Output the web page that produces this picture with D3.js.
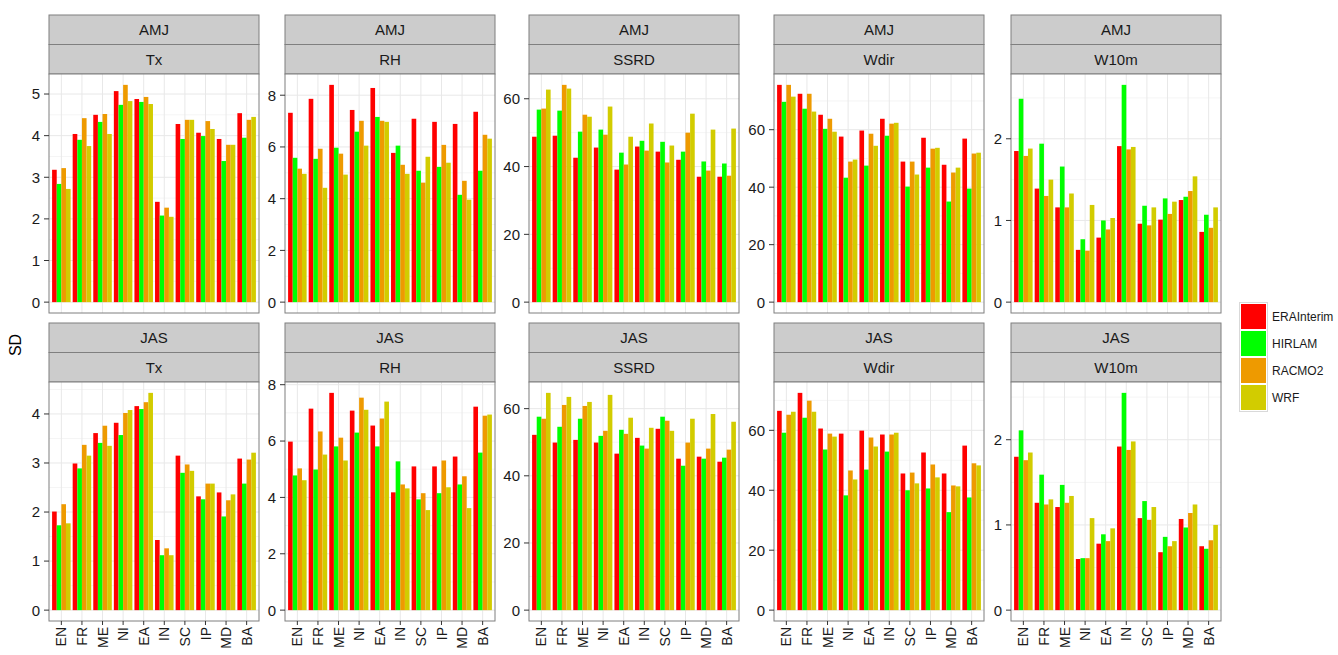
<!DOCTYPE html>
<meta charset="utf-8">
<style>
body { margin: 0; background: #fff; }
text { font-family: "Liberation Sans", Arial, sans-serif; }
</style>
<svg width="1338" height="655"></svg>
<script src="https://cdn.jsdelivr.net/npm/d3@7/dist/d3.min.js"></script>
<script>

var regions = ["EN", "FR", "ME", "NI", "EA", "IN", "SC", "IP", "MD", "BA"];
var models = ["ERAInterim", "HIRLAM", "RACMO2", "WRF"];
var seasons = ["AMJ", "JAS"];
var variables = ["Tx", "RH", "SSRD", "Wdir", "W10m"];

// SD per region, one row per model (ERAInterim, HIRLAM, RACMO2, WRF)
var amjTx = [
  [3.18, 4.04, 4.50, 5.07, 4.88, 2.41, 4.28, 4.07, 3.92, 4.54],
  [2.84, 3.90, 4.33, 4.74, 4.81, 2.08, 3.92, 3.99, 3.39, 3.95],
  [3.22, 4.42, 4.52, 5.22, 4.93, 2.27, 4.38, 4.35, 3.78, 4.38],
  [2.72, 3.75, 4.04, 4.83, 4.76, 2.05, 4.38, 4.16, 3.78, 4.45]];
var amjRH = [
  [7.32, 7.86, 8.40, 7.43, 8.28, 5.77, 7.09, 6.97, 6.89, 7.36],
  [5.58, 5.54, 5.97, 6.59, 7.16, 6.05, 5.08, 5.23, 4.15, 5.08],
  [5.16, 5.93, 5.74, 7.01, 7.01, 5.31, 4.62, 6.08, 4.69, 6.47],
  [4.96, 4.42, 4.93, 6.05, 6.97, 4.96, 5.62, 5.39, 3.96, 6.32]];
var amjSSRD = [
  [48.8, 49.1, 42.6, 45.6, 39.1, 45.9, 44.4, 42.0, 37.0, 37.0],
  [56.8, 56.5, 50.3, 50.9, 44.1, 47.6, 47.3, 44.4, 41.5, 40.9],
  [57.1, 64.1, 55.3, 49.4, 40.6, 44.7, 41.2, 50.0, 38.8, 37.3],
  [62.7, 63.0, 54.7, 57.7, 48.8, 52.7, 46.2, 55.6, 50.9, 51.2]];
var amjWdir = [
  [75.6, 72.5, 65.2, 57.6, 59.7, 63.8, 48.9, 57.2, 47.8, 56.9],
  [69.7, 67.3, 60.3, 43.3, 47.5, 57.9, 40.2, 46.8, 35.0, 39.5],
  [75.6, 72.5, 63.8, 48.9, 58.6, 62.1, 48.9, 53.4, 45.1, 51.7],
  [71.5, 66.3, 59.3, 49.6, 54.4, 62.4, 44.4, 53.7, 46.8, 52.0]];
var amjW10m = [
  [1.85, 1.39, 1.16, 0.64, 0.79, 1.91, 0.96, 1.01, 1.25, 0.86],
  [2.49, 1.94, 1.66, 0.77, 1.00, 2.66, 1.18, 1.27, 1.29, 1.07],
  [1.79, 1.30, 1.16, 0.63, 0.89, 1.87, 0.94, 1.08, 1.36, 0.91],
  [1.88, 1.50, 1.33, 1.19, 1.03, 1.90, 1.16, 1.23, 1.54, 1.16]];
var jasTx = [
  [2.01, 2.99, 3.61, 3.82, 4.16, 1.43, 3.15, 2.32, 2.40, 3.09],
  [1.73, 2.89, 3.41, 3.57, 4.10, 1.12, 2.80, 2.26, 1.91, 2.58],
  [2.16, 3.37, 3.76, 4.02, 4.24, 1.26, 2.97, 2.58, 2.24, 3.07],
  [1.77, 3.15, 3.35, 4.08, 4.43, 1.12, 2.84, 2.58, 2.36, 3.21]];
var jasRH = [
  [5.98, 7.15, 7.71, 7.08, 6.55, 4.18, 5.10, 5.10, 5.45, 7.22],
  [4.78, 4.99, 5.81, 6.30, 5.81, 5.28, 3.93, 4.15, 4.46, 5.59],
  [5.03, 6.34, 6.12, 7.54, 6.80, 4.46, 4.15, 5.31, 4.75, 6.90],
  [4.61, 5.52, 5.31, 7.11, 7.40, 4.32, 3.55, 4.36, 3.62, 6.94]];
var jasSSRD = [
  [52.2, 49.9, 50.7, 49.9, 46.6, 51.3, 54.0, 45.1, 45.7, 44.2],
  [57.6, 54.6, 57.0, 51.9, 53.7, 49.0, 57.6, 43.0, 45.1, 45.4],
  [57.0, 61.1, 60.8, 53.4, 52.5, 48.1, 56.4, 49.9, 48.1, 47.8],
  [64.7, 63.5, 62.0, 64.1, 57.3, 54.3, 53.4, 57.0, 58.4, 56.1]];
var jasWdir = [
  [66.5, 72.5, 60.6, 58.9, 59.9, 58.6, 45.6, 52.6, 45.6, 54.9],
  [59.2, 64.2, 53.6, 38.3, 46.9, 52.9, 40.0, 40.6, 32.7, 37.6],
  [65.2, 69.9, 58.9, 46.6, 57.6, 58.6, 45.9, 48.6, 41.6, 49.0],
  [66.2, 66.2, 57.9, 43.6, 54.6, 59.2, 42.3, 44.3, 41.3, 48.3]];
var jasW10m = [
  [1.80, 1.26, 1.21, 0.60, 0.78, 1.92, 1.08, 0.68, 1.07, 0.75],
  [2.11, 1.59, 1.47, 0.61, 0.89, 2.55, 1.28, 0.86, 0.97, 0.72],
  [1.76, 1.24, 1.26, 0.61, 0.81, 1.88, 1.06, 0.75, 1.14, 0.82],
  [1.85, 1.30, 1.34, 1.08, 0.96, 1.98, 1.21, 0.81, 1.24, 1.00]];

// y tick labels per panel
var ticksAMJ = [[0, 1, 2, 3, 4, 5], [0, 2, 4, 6, 8], [0, 20, 40, 60], [0, 20, 40, 60], [0, 1, 2]];
var ticksJAS = [[0, 1, 2, 3, 4], [0, 2, 4, 6, 8], [0, 20, 40, 60], [0, 20, 40, 60], [0, 1, 2]];

var panelData = [[amjTx, amjRH, amjSSRD, amjWdir, amjW10m],
                 [jasTx, jasRH, jasSSRD, jasWdir, jasW10m]];
var panelTicks = [ticksAMJ, ticksJAS];

var colour = d3.scaleOrdinal()
    .domain(models)
    .range(["#ff0000", "#00ff00", "#ee9a00", "#d2cc00"]);

var svg = d3.select("svg");

// layout
var panelLeft = [49, 285, 529, 774, 1011],
    panelW = 210,
    rowTop = [15, 323],
    stripH = 29.5,
    plotH = 239;

function drawPanel(row, col) {
  var data = panelData[row][col],
      ticks = panelTicks[row][col],
      x0 = panelLeft[col],
      top = rowTop[row],
      py = top + 2 * stripH;

  var g = svg.append("g");

  // strips
  [seasons[row], variables[col]].forEach(function(lab, i) {
    g.append("rect")
        .attr("x", x0).attr("y", top + i * stripH)
        .attr("width", panelW).attr("height", stripH)
        .attr("fill", "#cccccc").attr("stroke", "#7f7f7f").attr("stroke-width", 1);
    g.append("text")
        .attr("x", x0 + panelW / 2).attr("y", top + i * stripH + stripH / 2)
        .attr("dy", "0.36em")
        .attr("text-anchor", "middle")
        .attr("font-size", 15).attr("fill", "#1a1a1a")
        .text(lab);
  });

  var max = d3.max(data, function(s) { return d3.max(s); });
  var y = d3.scaleLinear()
      .domain([-0.05 * max, 1.05 * max])
      .range([py + plotH, py]);

  var x = d3.scalePoint()
      .domain(regions)
      .range([x0, x0 + panelW])
      .padding(0.6);
  var step = x.step();
  var dodge = d3.scaleBand()
      .domain(models)
      .range([-0.45 * step, 0.45 * step]);

  g.append("rect")
      .attr("x", x0).attr("y", py)
      .attr("width", panelW).attr("height", plotH)
      .attr("fill", "#fff");

  // minor grid
  var tstep = ticks[1] - ticks[0];
  var minor = ticks.map(function(t) { return t + tstep / 2; })
      .filter(function(t) { return y(t) > py; });
  g.selectAll(".minor").data(minor).enter().append("line")
      .attr("x1", x0).attr("x2", x0 + panelW)
      .attr("y1", function(d) { return y(d); }).attr("y2", function(d) { return y(d); })
      .attr("stroke", "#f5f5f5").attr("stroke-width", 1);

  // major grid
  g.selectAll(".hmajor").data(ticks).enter().append("line")
      .attr("x1", x0).attr("x2", x0 + panelW)
      .attr("y1", function(d) { return y(d); }).attr("y2", function(d) { return y(d); })
      .attr("stroke", "#e8e8e8").attr("stroke-width", 1);
  g.selectAll(".vmajor").data(regions).enter().append("line")
      .attr("x1", function(d) { return x(d); }).attr("x2", function(d) { return x(d); })
      .attr("y1", py).attr("y2", py + plotH)
      .attr("stroke", "#e8e8e8").attr("stroke-width", 1);

  // bars
  data.forEach(function(series, m) {
    g.append("g").selectAll("rect")
        .data(series)
      .enter().append("rect")
        .attr("x", function(d, i) { return x(regions[i]) + dodge(models[m]); })
        .attr("width", dodge.bandwidth())
        .attr("y", function(d) { return y(d); })
        .attr("height", function(d) { return y(0) - y(d); })
        .attr("fill", colour(models[m]));
  });

  g.append("rect")
      .attr("x", x0).attr("y", py)
      .attr("width", panelW).attr("height", plotH)
      .attr("fill", "none").attr("stroke", "#7f7f7f").attr("stroke-width", 1);

  // y axis
  var ya = g.append("g");
  ticks.forEach(function(t) {
    ya.append("line")
        .attr("x1", x0 - 5).attr("x2", x0)
        .attr("y1", y(t)).attr("y2", y(t))
        .attr("stroke", "#333").attr("stroke-width", 1);
    ya.append("text")
        .attr("x", x0 - 9).attr("y", y(t)).attr("dy", "0.36em")
        .attr("text-anchor", "end")
        .attr("font-size", 15).attr("fill", "#1a1a1a")
        .text(t);
  });

  // x axis on bottom row only
  if (row === 1) {
    regions.forEach(function(r) {
      g.append("line")
          .attr("x1", x(r)).attr("x2", x(r))
          .attr("y1", py + plotH).attr("y2", py + plotH + 4)
          .attr("stroke", "#333").attr("stroke-width", 1);
      g.append("text")
          .attr("transform", "translate(" + x(r) + "," + (py + plotH + 6) + ") rotate(-90)")
          .attr("dy", "0.36em")
          .attr("text-anchor", "end")
          .attr("font-size", 14).attr("fill", "#1a1a1a")
          .text(r);
    });
  }
}

for (var r = 0; r < 2; r++)
  for (var c = 0; c < 5; c++) drawPanel(r, c);

// y title
svg.append("text")
    .attr("transform", "translate(21,345) rotate(-90)")
    .attr("text-anchor", "middle")
    .attr("font-size", 16).attr("fill", "#000")
    .text("SD");

// legend
var keyH = 27, lx = 1240, ly = 303;
var legend = svg.append("g");
legend.append("rect")
    .attr("x", lx - 0.5).attr("y", ly - 0.5)
    .attr("width", keyH + 1).attr("height", keyH * models.length + 1)
    .attr("fill", "#fff").attr("stroke", "#d9d9d9");
models.forEach(function(m, i) {
  legend.append("rect")
      .attr("x", lx + 1).attr("y", ly + i * keyH + 1)
      .attr("width", keyH - 2).attr("height", keyH - 2)
      .attr("fill", colour(m));
  legend.append("text")
      .attr("x", lx + keyH + 5).attr("y", ly + i * keyH + keyH / 2)
      .attr("dy", "0.36em")
      .attr("font-size", 12).attr("fill", "#1a1a1a")
      .text(m);
});

</script>
